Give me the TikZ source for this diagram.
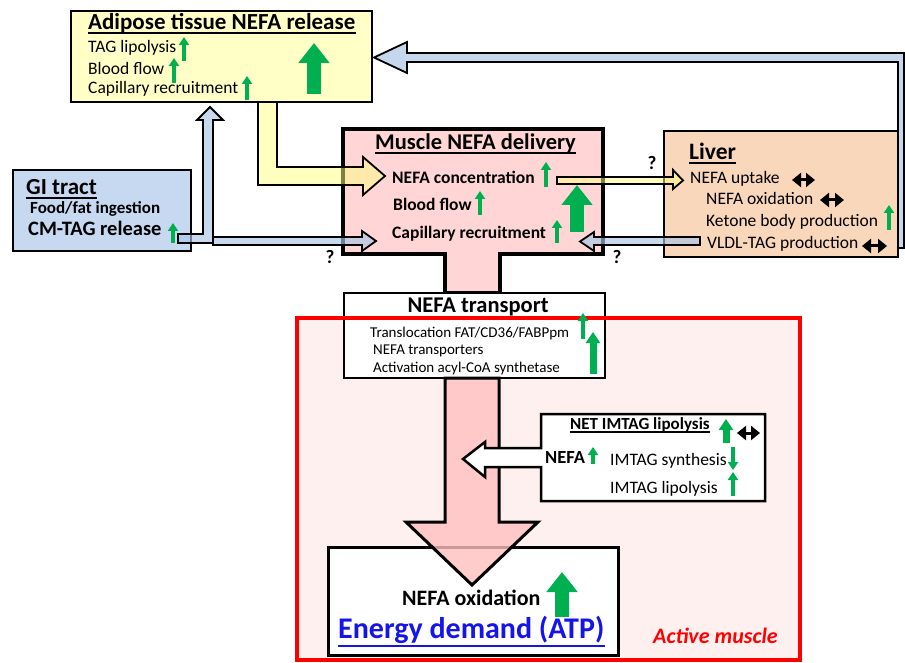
\documentclass[tikz,border=0pt]{standalone}
\usepackage{fontspec}
\setmainfont{Carlito}
\usepackage{tikz}
\usetikzlibrary{arrows.meta, positioning}
\definecolor{adfill}{RGB}{255,255,198}
\definecolor{gifill}{RGB}{198,217,241}
\definecolor{musfill}{RGB}{255,213,213}
\definecolor{livfill}{RGB}{249,215,187}
\definecolor{bluarr}{RGB}{198,214,236}
\definecolor{bluhalf}{RGB}{170,195,228}
\definecolor{yelarr}{RGB}{255,255,130}
\definecolor{pinkarr}{RGB}{255,192,192}
\definecolor{actfill}{RGB}{255,240,240}
\definecolor{upgreen}{RGB}{0,176,80}
\definecolor{atpblue}{RGB}{20,20,235}
\newcommand{\fsz}[1]{\fontsize{#1}{#1}\selectfont}
\tikzstyle{box} = [draw, inner sep = 0pt]
\tikzstyle{txt} = [anchor = base west, inner sep = 0pt]
\tikzstyle{qm} = [anchor = base, inner sep = 0pt, font = \fsz{19}\bfseries]
\tikzstyle{uline} = [draw, line width = 1.5pt]
\tikzstyle{blk} = [draw, line width = 1.8pt, line join = miter]
\tikzstyle{gsmall} = [draw = upgreen, line width = 4.5pt, -{Triangle[width = 10pt, length = 8pt]}]
\tikzstyle{gmid} = [draw = upgreen, line width = 7pt, -{Triangle[width = 14pt, length = 11pt]}]
\tikzstyle{gbig} = [draw = upgreen, line width = 14pt, -{Triangle[width = 30pt, length = 20pt]}]
\tikzstyle{dbl} = [draw, line width = 3pt, {Triangle[width = 14pt, length = 9pt]}-{Triangle[width = 14pt, length = 9pt]}]

\begin{document}
\begin{tikzpicture}[x = 1pt, y = -1pt]
			\useasboundingbox (0,0) rectangle (905,663);
			\clip (0,0) rectangle (905,663);

			\node [box, draw = none, fill = actfill, minimum width = 503pt, minimum height = 342pt] (active) at (548.5,489) {};

			\path [blk, fill = bluarr] (898,248) -- (898,62) -- (407,62) -- (407,73) -- (374,57.5) -- (407,42) -- (407,53) -- (904,53) -- (904,248) -- cycle;

			\node [box, line width = 2.5pt, fill = adfill, minimum width = 301pt, minimum height = 91pt] (adipose) at (221.5,56.5) {};
			\node [box, line width = 2pt, fill = gifill, minimum width = 178pt, minimum height = 81pt] (gi) at (102,210.5) {};
			\node [box, line width = 2pt, fill = livfill, minimum width = 234pt, minimum height = 126pt] (liver) at (781,194) {};

			\path [draw, line width = 4pt, fill = musfill, line join = miter] (343,129) -- (603,129) -- (603,254) -- (500,254) -- (500,293) -- (445,293) -- (445,254) -- (343,254) -- cycle;

			\path [blk, fill = yelarr, fill opacity = 0.5] (258,102) -- (258,185) -- (363,185) -- (363,195) -- (385,176) -- (363,157) -- (363,167) -- (277,167) -- (277,102) -- cycle;
			\path [blk, fill = bluhalf, fill opacity = 0.65] (178,234) -- (203,234) -- (203,120) -- (197,120) -- (210,107) -- (223,120) -- (213,120) -- (213,243) -- (178,243) -- cycle;
			\path [blk, fill = bluhalf, fill opacity = 0.65] (213,237) -- (362,237) -- (362,231) -- (376,241) -- (362,251) -- (362,245) -- (213,245) -- cycle;
			\path [blk, fill = bluhalf, fill opacity = 0.65] (700,237) -- (594,237) -- (594,232) -- (580,241.5) -- (594,251) -- (594,245) -- (700,245) -- cycle;
			\path [blk, fill = yelarr, fill opacity = 0.5] (557,177) -- (673,177) -- (673,170) -- (683,180.5) -- (673,189) -- (673,184) -- (557,184) -- cycle;

			\node [box, line width = 2.5pt, fill = white, minimum width = 261pt, minimum height = 85pt] (transport) at (474.5,335.5) {};
			\node [box, line width = 3pt, fill = white, minimum width = 290pt, minimum height = 108pt] (energy) at (473,601) {};

			\path [draw, line width = 3pt, fill = pinkarr, fill opacity = 0.8, line join = miter] (445,378) -- (445,522) -- (406,522) -- (472,585) -- (538,522) -- (499,522) -- (499,378) -- cycle;
			\path [draw, line width = 2.5pt, fill = white, line join = miter] (541,414) -- (765,414) -- (765,501) -- (541,501) -- (541,467) -- (485,467) -- (485,477) -- (463,459) -- (485,442) -- (485,448) -- (541,448) -- cycle;

			\draw [draw = red, line width = 4pt] (active.north west) rectangle (active.south east);

			\node [txt, font = \fsz{23}\bfseries] (adtitle) at (88,30) {Adipose tissue NEFA release};
			\node [txt, font = \fsz{17.5}] (adtag) at (88,53) {TAG lipolysis};
			\node [txt, font = \fsz{17.5}] (adflow) at (88,75) {Blood flow};
			\node [txt, font = \fsz{17.5}] (adcap) at (88,94) {Capillary recruitment};
			\path [uline] ([yshift = -3pt]adtitle.base west) -- ([yshift = -3pt]adtitle.base east);

			\node [txt, font = \fsz{23}\bfseries] (gititle) at (26,195) {GI tract};
			\node [txt, font = \fsz{17}\bfseries] (gifood) at (30,214) {Food/fat ingestion};
			\node [txt, font = \fsz{20.5}\bfseries] (gicm) at (28,236) {CM-TAG release};
			\path [uline] ([yshift = -3pt]gititle.base west) -- ([yshift = -3pt]gititle.base east);

			\node [txt, font = \fsz{22.5}\bfseries] (mustitle) at (375,150) {Muscle NEFA delivery};
			\node [txt, font = \fsz{17.5}\bfseries] (musconc) at (392,184) {NEFA concentration};
			\node [txt, font = \fsz{17.5}\bfseries] (musflow) at (393,211) {Blood flow};
			\node [txt, font = \fsz{17.5}\bfseries] (muscap) at (392,239) {Capillary recruitment};
			\path [uline] ([yshift = -3pt]mustitle.base west) -- ([yshift = -3pt]mustitle.base east);

			\node [txt, font = \fsz{23.5}\bfseries] (livtitle) at (689,160) {Liver};
			\node [txt, font = \fsz{17.5}] (livup) at (690,184) {NEFA uptake};
			\node [txt, font = \fsz{17.5}] (livox) at (706,205) {NEFA oxidation};
			\node [txt, font = \fsz{17.5}] (livket) at (706,226) {Ketone body production};
			\node [txt, font = \fsz{17.5}] (livvldl) at (707,248) {VLDL-TAG production};
			\path [uline] ([yshift = -3pt]livtitle.base west) -- ([yshift = -3pt]livtitle.base east);

			\node [qm] (q1) at (652,170) {?};
			\node [qm] (q2) at (330,263) {?};
			\node [qm] (q3) at (617,263) {?};

			\node [anchor = base, inner sep = 0pt, font = \fsz{22.5}\bfseries] (trtitle) at (478,312) {NEFA transport};
			\node [txt, font = \fsz{15}] (trtrans) at (370,337) {Translocation FAT/CD36/FABPpm};
			\node [txt, font = \fsz{15}] (trnefa) at (373,354) {NEFA transporters};
			\node [txt, font = \fsz{15}] (tract) at (373,372) {Activation acyl-CoA synthetase};

			\node [txt, font = \fsz{17}\bfseries] (imtitle) at (570,429) {NET IMTAG lipolysis};
			\node [txt, font = \fsz{18.5}\bfseries] (imnefa) at (545,463) {NEFA};
			\node [txt, font = \fsz{17.5}] (imsyn) at (610,465) {IMTAG synthesis};
			\node [txt, font = \fsz{17.5}] (imlip) at (610,493) {IMTAG lipolysis};
			\path [uline] ([yshift = -3pt]imtitle.base west) -- ([yshift = -3pt]imtitle.base east);

			\node [txt, font = \fsz{22}\bfseries] (enox) at (402,605) {NEFA oxidation};
			\node [txt, font = \fsz{30}\bfseries, text = atpblue] (enatp) at (338,638) {Energy demand (ATP)};
			\path [uline, draw = atpblue, line width = 2pt] ([yshift = -8pt]enatp.base west) -- ([yshift = -8pt]enatp.base east);
			\node [txt, font = \fsz{22}\bfseries\itshape, text = red] (actlabel) at (653,643) {Active muscle};

			\path [gsmall] (184,61) -- (184,37);
			\path [gsmall] (174,83) -- (174,58);
			\path [gsmall] (247,100) -- (247,76);
			\path [gsmall] (173,243) -- (173,223);
			\path [gsmall] (546,187) -- (546,162);
			\path [gsmall] (480,215) -- (480,191);
			\path [gsmall] (557,243) -- (557,220);
			\path [gsmall] (889,230) -- (889,205);
			\path [gsmall] (583,339) -- (583,313);
			\path [gsmall] (593,464) -- (593,447);
			\path [gsmall] (733,447) -- (733,470);
			\path [gsmall] (733,496) -- (733,472);
			\path [gmid] (726,443) -- (726,419);
			\path [gmid] (593,374) -- (593,332);
			\path [gbig] (314,94) -- (314,43);
			\path [gbig] (577,232) -- (577,185);
			\path [gbig] (562,617) -- (562,572);

			\path [dbl] (792,180) -- (815,180);
			\path [dbl] (820,200) -- (844,200);
			\path [dbl] (862,246) -- (887,246);
			\path [dbl] (737,433) -- (760,433);
		\end{tikzpicture}
\end{document}
